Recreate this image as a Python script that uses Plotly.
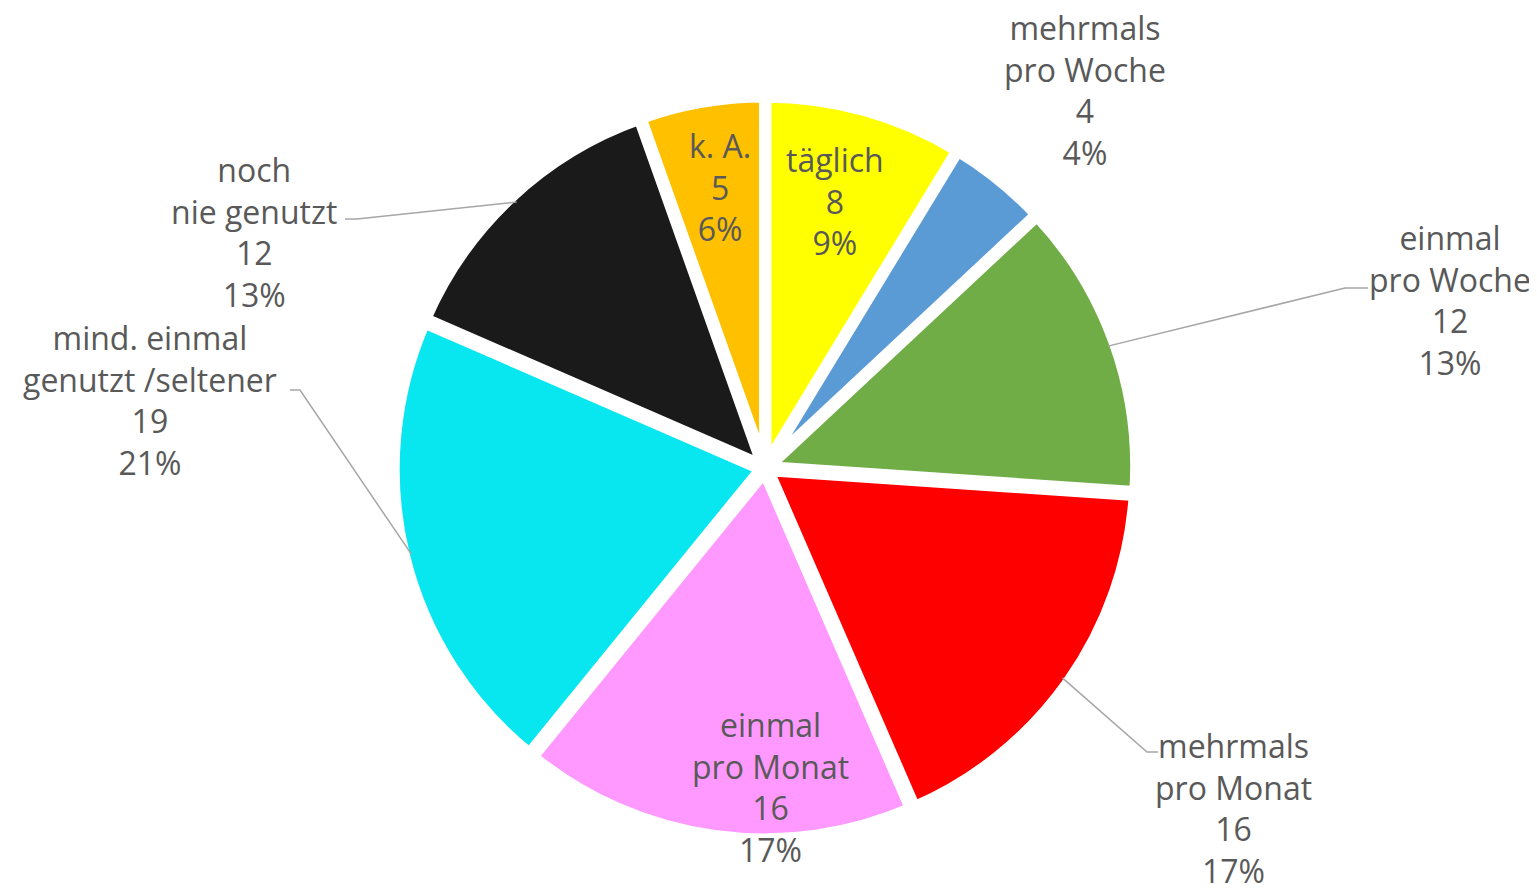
import math
import plotly.graph_objects as go

# ---------------- data ----------------
categories = ["täglich", "mehrmals<br>pro Woche", "einmal<br>pro Woche", "mehrmals<br>pro Monat",
              "einmal<br>pro Monat", "mind. einmal<br>genutzt /seltener", "noch<br>nie genutzt", "k. A."]
values = [8, 4, 12, 16, 16, 19, 12, 5]
percent_labels = ["9%", "4%", "13%", "17%", "17%", "21%", "13%", "6%"]
colors = ["#FFFF00", "#5B9BD5", "#70AD47", "#FF0000", "#FF99FF", "#08E6EF", "#1A1A1A", "#FFC000"]

# ---------------- layout helpers ----------------
W, H = 1537, 891
PAGE_OFF = 8                     # browser body margin
CX, CY, R_OUT = 765, 468, 366    # pixel centre / radius (screen coords) used for leader lines
PULL = 0.015
LINE_W = 10

# label centre positions (screen pixels) and leader hooks: (elbow, stub_end) or None
label_pos = [(835, 201), (1085, 90), (1450, 300), (1233, 808),
             (770, 787), (150, 400), (254, 232), (720, 187)]
leaders = [None, None, ((1345, 288), (1368, 288)), ((1147, 752), (1158, 752)),
           None, ((300, 390), (290, 390)), ((357, 219), (345, 219)), None]

FONT = "Comic Sans MS, Open Sans, sans-serif"
TXT = "#595959"


def px(x):
    return (x - PAGE_OFF) / W


def py(y):
    return 1 - (y - PAGE_OFF) / H


# pie domain so that radius matches the reference
r_plot = 365 * (1 + PULL)
dom_x = [px(CX - r_plot), px(CX + r_plot)]
dom_y = [py(CY + r_plot), py(CY - r_plot)]

fig = go.Figure(go.Pie(
    labels=[c.replace("<br>", " ") for c in categories],
    values=values,
    sort=False,
    direction="clockwise",
    rotation=0,
    pull=[PULL] * len(values),
    marker=dict(colors=colors, line=dict(color="white", width=LINE_W)),
    textinfo="none",
    hoverinfo="label+value+percent",
    domain=dict(x=dom_x, y=dom_y),
    showlegend=False,
))

annotations = []
shapes = []
total = sum(values)
cum = 0
for i, v in enumerate(values):
    mid = (cum + v / 2) / total * 2 * math.pi
    cum += v
    lx, ly = label_pos[i]
    annotations.append(dict(
        x=px(lx), y=py(ly), xref="paper", yref="paper",
        text=f"{categories[i]}<br>{v}<br>{percent_labels[i]}",
        showarrow=False, align="center", xanchor="center", yanchor="middle",
        font=dict(family=FONT, size=32, color=TXT),
    ))
    if leaders[i] is not None:
        sx = CX + (R_OUT - 2) * math.sin(mid)
        sy = CY - (R_OUT - 2) * math.cos(mid)
        (ex, ey), (tx, ty) = leaders[i]
        path = f"M {px(sx)} {py(sy)} L {px(ex)} {py(ey)} L {px(tx)} {py(ty)}"
        shapes.append(dict(type="path", path=path, xref="paper", yref="paper",
                           line=dict(color="#A6A6A6", width=1.5)))

fig.update_layout(
    width=W, height=H,
    margin=dict(l=0, r=0, t=0, b=0),
    paper_bgcolor="white",
    plot_bgcolor="white",
    annotations=annotations,
    shapes=shapes,
    showlegend=False,
)

fig.write_html("out.html")
